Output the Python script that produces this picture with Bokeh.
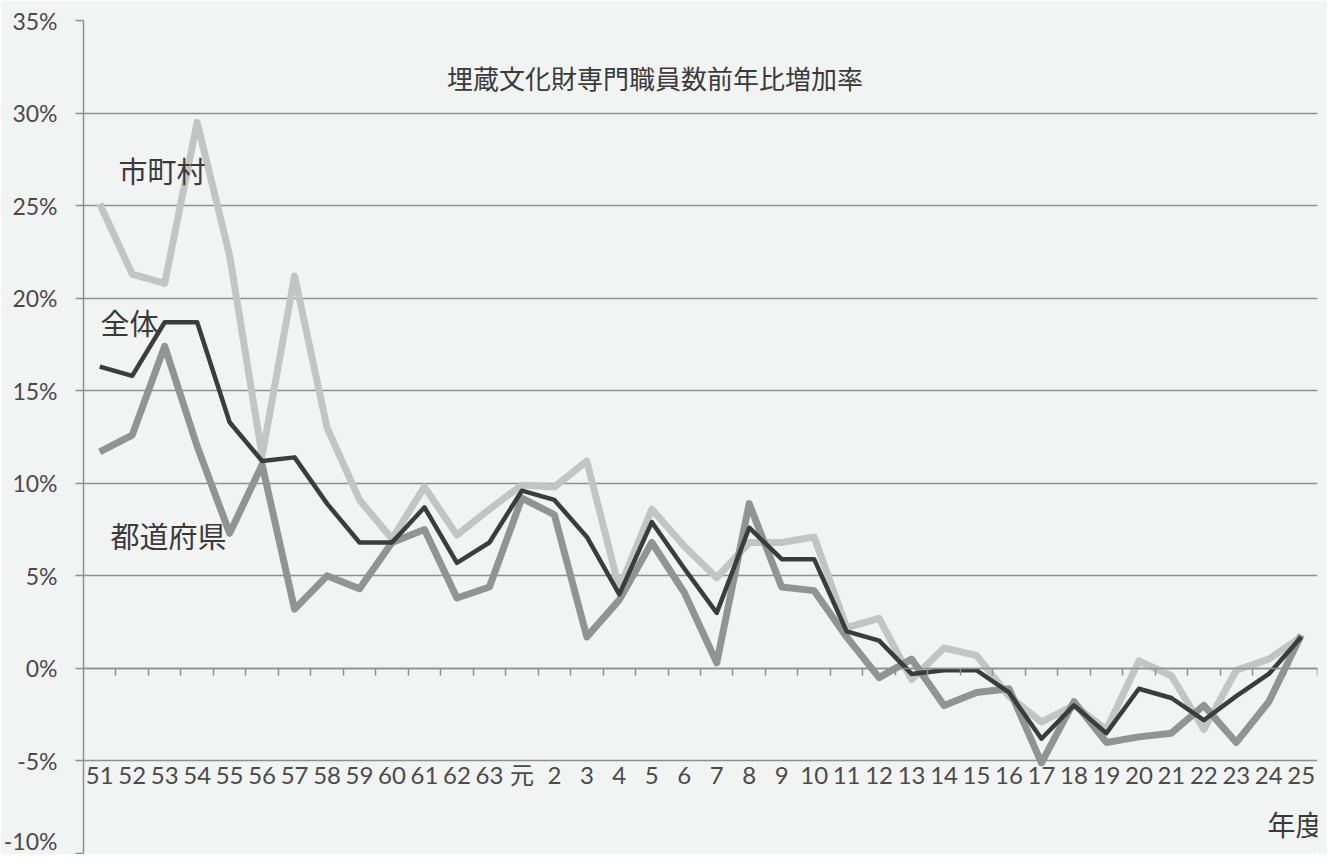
from bokeh.plotting import figure
from bokeh.models import (FactorRange, Range1d, CategoricalAxis, LinearAxis, FixedTicker,
                          PrintfTickFormatter, Label, Grid)
from bokeh.embed import file_html
from bokeh.resources import INLINE

years = ["51", "52", "53", "54", "55", "56", "57", "58", "59", "60", "61", "62", "63",
         "元", "2", "3", "4", "5", "6", "7", "8", "9", "10", "11", "12", "13", "14", "15",
         "16", "17", "18", "19", "20", "21", "22", "23", "24", "25"]

# 市町村
shichoson = [25.1, 21.3, 20.8, 29.5, 22.3, 11.5, 21.2, 13.0, 9.1, 7.0, 9.8, 7.2, 8.6,
             9.9, 9.8, 11.2, 4.3, 8.6, 6.6, 4.9, 6.8, 6.8, 7.1, 2.2, 2.7, -0.6, 1.1, 0.7,
             -1.5, -2.9, -2.0, -3.3, 0.4, -0.4, -3.3, -0.1, 0.5, 1.7]
# 全体
zentai = [16.3, 15.8, 18.7, 18.7, 13.3, 11.2, 11.4, 8.9, 6.8, 6.8, 8.7, 5.7, 6.8,
          9.6, 9.1, 7.1, 4.0, 7.9, 5.4, 3.0, 7.6, 5.9, 5.9, 2.0, 1.5, -0.3, -0.1, -0.1,
          -1.3, -3.8, -2.0, -3.5, -1.1, -1.6, -2.8, -1.5, -0.3, 1.7]
# 都道府県
todofuken = [11.7, 12.6, 17.4, 12.0, 7.3, 11.0, 3.2, 5.0, 4.3, 6.8, 7.5, 3.8, 4.4,
             9.2, 8.3, 1.7, 3.7, 6.8, 4.1, 0.3, 8.9, 4.4, 4.2, 1.7, -0.5, 0.5, -2.0, -1.3,
             -1.1, -5.1, -1.8, -4.0, -3.7, -3.5, -2.0, -4.0, -1.8, 1.8]

y_ticks = [-10, -5, 0, 5, 10, 15, 20, 25, 30, 35]
title_text = "埋蔵文化財専門職員数前年比増加率"
x_title = "年度"

BG = "#f2f4f3"
GRID = "#8e9090"
TXT = "#4a4a4a"
CJK = "Noto Sans CJK JP"

p = figure(width=1327, height=854,
           x_range=FactorRange(factors=years), y_range=Range1d(-10, 35),
           output_backend="svg", toolbar_location=None,
           x_axis_location=None, y_axis_location=None,
           min_border_left=83, min_border_right=10, min_border_top=20, min_border_bottom=1)
p.background_fill_color = BG
p.border_fill_color = BG
p.outline_line_color = None
for g in list(p.xgrid) + list(p.ygrid):
    g.visible = False

p.add_layout(Grid(dimension=1, ticker=FixedTicker(ticks=y_ticks),
                  grid_line_color=GRID, grid_line_width=1.5))

yax = LinearAxis(ticker=FixedTicker(ticks=y_ticks), formatter=PrintfTickFormatter(format="%d%%"),
                 axis_line_color=GRID, axis_line_width=1.5,
                 major_tick_line_color=GRID, major_tick_line_width=1.5,
                 major_tick_out=8, major_tick_in=0, minor_tick_line_color=None,
                 major_label_text_font="Lato", major_label_text_font_size="23px",
                 major_label_text_color=TXT, major_label_standoff=18)
p.add_layout(yax, "left")

# category labels just under the -5% line
xlab = CategoricalAxis(fixed_location=-4.6, axis_line_color=None,
                       major_tick_line_color=None, minor_tick_line_color=None,
                       major_label_text_font="Lato, 'Noto Sans CJK JP'",
                       major_label_text_font_size="24px",
                       major_label_text_color=TXT, major_label_standoff=0)
p.add_layout(xlab, "below")

# tick marks between categories on the 0% line
bounds = list(range(1, len(years) + 1))
xtick = LinearAxis(fixed_location=0, ticker=FixedTicker(ticks=bounds),
                   axis_line_color=GRID, axis_line_width=1.5,
                   major_tick_line_color=GRID, major_tick_line_width=1.5,
                   major_tick_out=7, major_tick_in=0, minor_tick_line_color=None,
                   major_label_overrides={b: "" for b in bounds},
                   major_label_text_font_size="1px")
p.add_layout(xtick, "below")

p.line(x=years, y=shichoson, line_color="#c3c5c4", line_width=7, line_join="round")
p.line(x=years, y=todofuken, line_color="#929393", line_width=7, line_join="round")
p.line(x=years, y=zentai, line_color="#3c3c3c", line_width=4.5, line_join="round")

p.add_layout(Label(x=17.6, y=31.9, text=title_text, text_align="center", text_baseline="middle",
                   text_font=CJK, text_font_size="26px", text_color="#3a3a3a"))
for txt, lx, ly in [("市町村", 1.08, 26.9), ("全体", 0.52, 18.7), ("都道府県", 0.83, 7.2)]:
    p.add_layout(Label(x=lx, y=ly, text=txt, text_align="left", text_baseline="middle",
                       text_font=CJK, text_font_size="29px", text_color="#3a3a3a"))
p.add_layout(Label(x=36.46, y=-8.4, text=x_title, text_align="left", text_baseline="middle",
                   text_font=CJK, text_font_size="28px", text_color="#3a3a3a"))

open("out.html", "w").write(file_html(p, INLINE))
